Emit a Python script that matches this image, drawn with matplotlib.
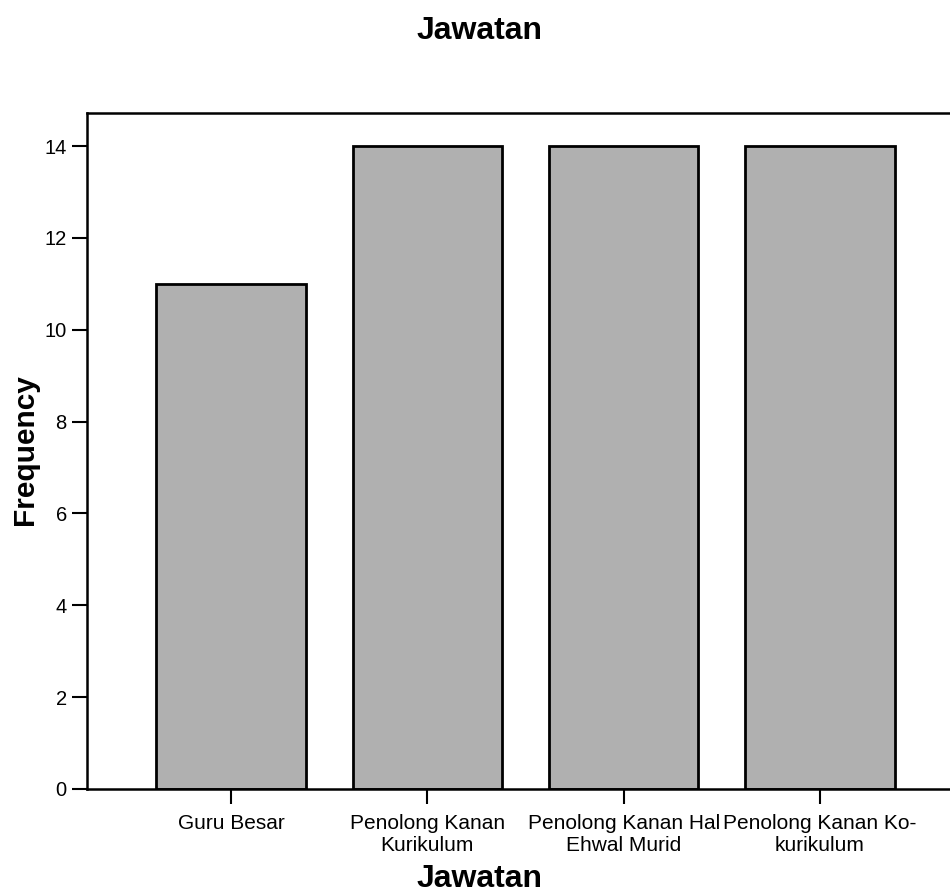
import matplotlib
matplotlib.use("Agg")
import matplotlib.pyplot as plt
import numpy as np

plt.rcParams["font.family"] = ["Liberation Sans", "DejaVu Sans"]

categories = ["Guru Besar", "Penolong Kanan\nKurikulum",
              "Penolong Kanan Hal\nEhwal Murid", "Penolong Kanan Ko-\nkurikulum"]
counts = [11, 14, 14, 14]
yticks = [0, 2, 4, 6, 8, 10, 12, 14]

fig = plt.figure(figsize=(9.5, 8.93), dpi=100)
# right spine falls outside the picture, as in the scan
ax = fig.add_axes([87 / 950, 104 / 893, 877 / 950, 676 / 893])

x = np.arange(len(categories))
ax.bar(x, counts, width=0.76, color="#b0b0b0", edgecolor="black", linewidth=2)

ax.set_xlim(-0.733, len(categories) - 1 + 0.733)
ax.set_ylim(0, 14.72)
ax.set_yticks(yticks)
ax.set_xticks(x)
ax.set_xticklabels(categories, fontsize=15, linespacing=1.2)
ax.tick_params(axis="y", labelsize=14.5, length=11, width=1.5, pad=3.5, direction="out")
ax.tick_params(axis="x", length=11, width=1.5, pad=7, direction="out")

for side in ["left", "top", "bottom"]:
    ax.spines[side].set_linewidth(1.8)
ax.spines["right"].set_visible(False)

fig.text(480 / 950, 1 - 31 / 893, "Jawatan", ha="center", va="center",
         fontsize=23, fontweight="bold")
fig.text(480 / 950, 1 - 879 / 893, "Jawatan", ha="center", va="center",
         fontsize=23, fontweight="bold")
fig.text(25 / 950, 1 - 450 / 893, "Frequency", ha="center", va="center",
         rotation=90, fontsize=21.5, fontweight="bold")

fig.savefig("out.png", dpi=100)
